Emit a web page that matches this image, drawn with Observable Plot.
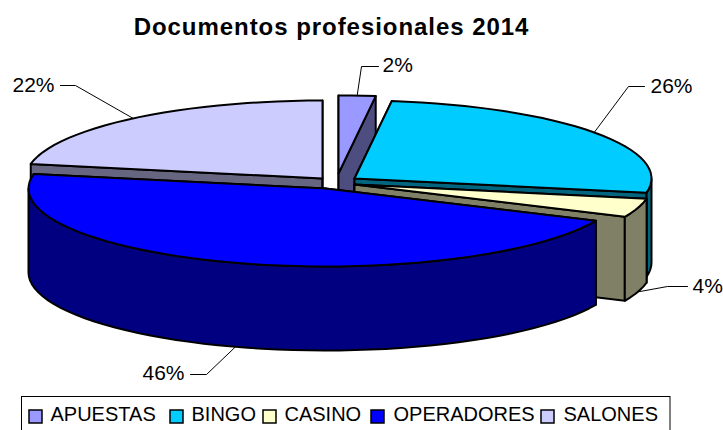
<!DOCTYPE html>
<html>
<head>
<meta charset="utf-8">
<script src="https://cdn.jsdelivr.net/npm/d3@7"></script>
<script src="https://cdn.jsdelivr.net/npm/@observablehq/plot@0.6"></script>
<style>html,body{margin:0;padding:0;background:#fff;overflow:hidden}</style>
</head>
<body>
<div id="chart"></div>
<script>
const chartTitle = "Documentos profesionales 2014";
const categories = ["APUESTAS", "BINGO", "CASINO", "OPERADORES", "SALONES"];
const shares = [2.0, 25.9, 3.9, 46.2, 22.0];
const shareLabels = ["2%", "26%", "4%", "46%", "22%"];
const topColors = ["#9999FF", "#00CCFF", "#FFFFCC", "#0000FF", "#CCCCFF"];
const sideColors = ["#4D4D80", "#006680", "#808066", "#000080", "#666680"];

// pie layout (exploded slices, projected ellipse)
const rx = 297, ry = 78, depth = 84;
const apexX = [338, 354, 354, 325, 322];
const apexY = [173, 178, 184, 188, 178];
const drawOrder = [0, 4, 1, 2, 3];
// leader elbow and label placement
const elbowX = [361, 628, 667, 206, 75];
const elbowY = [66, 86, 286, 374, 85];
const stubX = [378, 644, 687, 190, 60];
const labelX = [382, 650, 692, 142, 12];
const labelY = [65, 86, 286, 373, 85];
// legend placement
const swatchX = [29, 170, 263, 371, 541];
const legendTextX = [50, 191, 284, 393, 563];

const rad = d => d * Math.PI / 180;
let acc = 0;
const slices = categories.map((name, i) => {
  const a0 = acc * 3.6, a1 = (acc + shares[i]) * 3.6;
  acc += shares[i];
  return {name, i, a0, a1, mid: (a0 + a1) / 2};
});
const pt = (s, a, dz = 0) => ({
  x: apexX[s.i] + rx * Math.sin(rad(a)),
  y: apexY[s.i] - ry * Math.cos(rad(a)) + dz
});
const arc = (s, from, to, dz = 0) => {
  const out = [], step = 3;
  const n = Math.max(1, Math.ceil((to - from) / step));
  for (let k = 0; k <= n; k++) out.push(pt(s, from + (to - from) * k / n, dz));
  return out;
};
const apex = (s, dz = 0) => ({x: apexX[s.i], y: apexY[s.i] + dz});
const closed = p => [...p, p[0]];

const faceStyle = fill => ({x: "x", y: "y", fill, stroke: "#000", strokeWidth: 2, strokeLinejoin: "round", curve: "linear"});

const pieMarks = drawOrder.flatMap(idx => {
  const s = slices[idx], side = sideColors[idx], top = topColors[idx];
  const marks = [];
  for (const a of [s.a0, s.a1]) {
    marks.push(Plot.line(closed([apex(s), pt(s, a), pt(s, a, depth), apex(s, depth)]), faceStyle(side)));
  }
  const f0 = Math.max(s.a0, 90), f1 = Math.min(s.a1, 270);
  if (f1 > f0) {
    marks.push(Plot.line(closed([...arc(s, f0, f1), ...arc(s, f0, f1, depth).reverse()]), faceStyle(side)));
  }
  marks.push(Plot.line(closed([apex(s), ...arc(s, s.a0, s.a1)]), faceStyle(top)));
  return marks;
});

// leader lines end on the slice edge at its mid-angle
const leaders = slices.map(s => {
  const front = s.mid > 90 && s.mid < 270;
  return [{x: stubX[s.i], y: elbowY[s.i]}, {x: elbowX[s.i], y: elbowY[s.i]}, pt(s, s.mid, front ? depth : 0)];
});

const labels = slices.map(s => ({text: shareLabels[s.i], x: labelX[s.i], y: labelY[s.i]}));
const legend = slices.map(s => ({name: s.name, color: topColors[s.i], x: swatchX[s.i], tx: legendTextX[s.i]}));
const font = "Liberation Sans, Arial, sans-serif";

const chart = Plot.plot({
  width: 723, height: 430,
  marginLeft: 0, marginRight: 0, marginTop: 0, marginBottom: 0,
  x: {domain: [0, 723], range: [0, 723], axis: null},
  y: {domain: [0, 430], range: [0, 430], axis: null},
  style: {background: "#fff", fontFamily: font},
  marks: [
    ...pieMarks,
    ...leaders.map(l => Plot.line(l, {x: "x", y: "y", stroke: "#000", strokeWidth: 1, curve: "linear"})),
    Plot.text([chartTitle], {x: () => 331, y: () => 27, text: d => d, fontSize: 24, fontWeight: "bold", fill: "#000", fontFamily: font}),
    Plot.text(labels, {x: "x", y: "y", text: "text", textAnchor: "start", fontSize: 21, fill: "#000", fontFamily: font}),
    Plot.rect([0], {x1: () => 21.5, x2: () => 670, y1: () => 396.5, y2: () => 436, fill: "#fff", stroke: "#000", strokeWidth: 1}),
    Plot.rect(legend, {x1: "x", x2: d => d.x + 13, y1: () => 410, y2: () => 423, fill: "color", stroke: "#000", strokeWidth: 1.5}),
    Plot.text(legend, {x: "tx", y: () => 414, text: "name", textAnchor: "start", fontSize: 20, fill: "#000", fontFamily: font})
  ]
});
d3.select(chart).selectAll("text").filter(function () { return this.textContent === chartTitle; }).style("letter-spacing", "0.95px");
document.getElementById("chart").appendChild(chart);
</script>
</body>
</html>
